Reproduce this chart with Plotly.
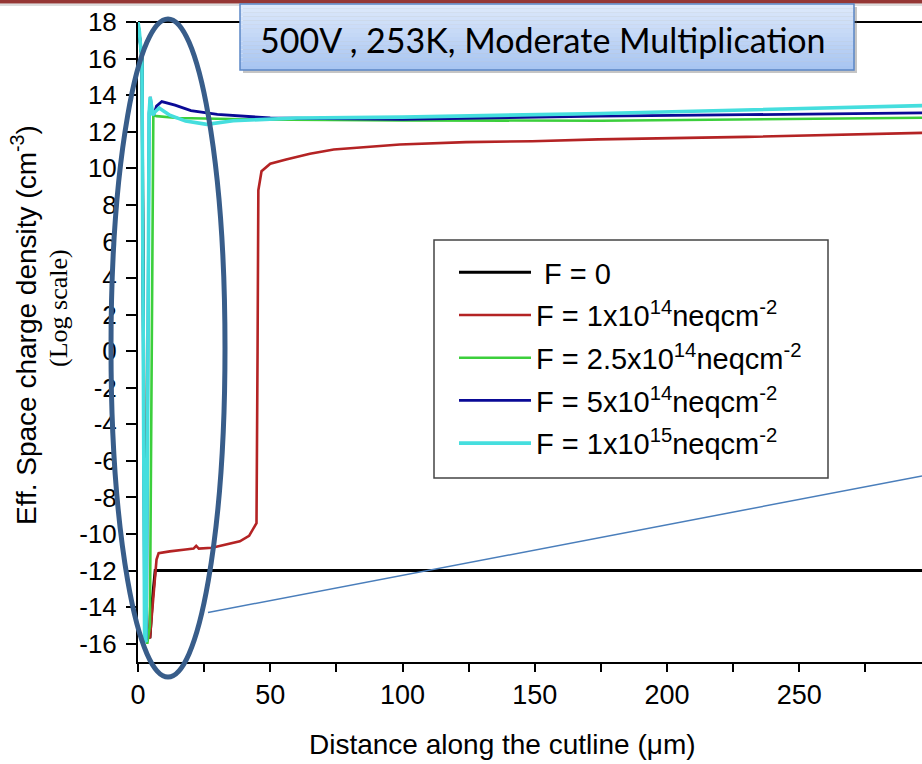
import plotly.graph_objects as go

# ---------------- data ----------------
x_f0 = [0, 1.5, 2.5, 3.5, 4.5, 5.5, 6.5, 100, 200, 300]
y_f0 = [18, 16, -10, -15.5, -15.7, -13.5, -12.0, -12.0, -12.0, -12.0]

x_f1e14 = [0, 1.5, 2.5, 3.5, 4.5, 5.5, 6.3, 7.0, 7.8, 12, 18, 21, 22, 23, 28, 34, 38.5, 42, 44,
           44.8, 45.2, 45.5, 46.7, 50, 56, 65, 74, 99, 124, 149, 174, 230, 300]
y_f1e14 = [18, 16, -10, -15.5, -15.7, -14, -12.3, -11.4, -11.05, -10.95, -10.85, -10.8, -10.65, -10.8,
           -10.75, -10.55, -10.4, -10.1, -9.6, -9.4, 0, 8.8, 9.84, 10.25, 10.48, 10.8, 11.03, 11.3,
           11.43, 11.48, 11.58, 11.72, 11.95]

x_f25e14 = [0, 1.5, 2.5, 3.5, 4.5, 5.2, 5.8, 7, 15, 40, 100, 175, 230, 300]
y_f25e14 = [18, 16, -15, -16, -15, 0, 12.9, 12.85, 12.75, 12.68, 12.62, 12.6, 12.66, 12.77]

x_f5e14 = [0, 1.5, 2.5, 3.2, 4.2, 4.7, 5.3, 6.0, 7, 9, 14, 20, 30, 50, 100, 175, 230, 300]
y_f5e14 = [18, 16, -15, -15.8, 13.0, 13.9, 13.0, 12.95, 13.4, 13.65, 13.45, 13.15, 12.95, 12.75,
           12.67, 12.85, 12.93, 13.04]

x_f1e15 = [0, 0.5, 1.5, 2.0, 2.5, 3.0, 3.6, 4.2, 4.6, 5.0, 5.6, 6.5, 8, 12, 18, 26, 36, 60, 100,
           175, 230, 300]
y_f1e15 = [18, 17.5, 15.8, 0, -15.8, -15.9, -5, 13.0, 13.9, 13.5, 12.9, 13.1, 13.3, 12.9, 12.58,
           12.4, 12.6, 12.75, 12.8, 13.0, 13.2, 13.44]

series_names = [
    " F = 0",
    "F = 1x10<sup>14</sup>neqcm<sup>-2</sup>",
    "F = 2.5x10<sup>14</sup>neqcm<sup>-2</sup>",
    "F = 5x10<sup>14</sup>neqcm<sup>-2</sup>",
    "F = 1x10<sup>15</sup>neqcm<sup>-2</sup>",
]
series_x = [x_f0, x_f1e14, x_f25e14, x_f5e14, x_f1e15]
series_y = [y_f0, y_f1e14, y_f25e14, y_f5e14, y_f1e15]
series_colors = ["#000000", "#b42324", "#3ccf3c", "#0a0a96", "#45dede"]
series_widths = [3, 2.6, 2.6, 2.8, 3.6]

x_ticks = [0, 50, 100, 150, 200, 250, 300]
y_ticks = list(range(-16, 19, 2))
y_ticktext = [str(v) for v in y_ticks]  # plain hyphen minus as in the reference

title_text = "500V , 253K, Moderate Multiplication"
x_title = "Distance along the cutline (μm)"
y_title = "Eff. Space charge density (cm<sup>-3</sup>)"
y_subtitle = "(Log scale)"

# ---------------- geometry helpers ----------------
W, H = 922, 764
L, T, B = 138, 22, 102
PW, PH = W - L, H - T - B


def px(x):
    return (x - L) / PW


def py(y):
    return (H - B - y) / PH


fig = go.Figure()
for i, (n, xs, ys, c, w) in enumerate(zip(series_names, series_x, series_y, series_colors, series_widths)):
    fig.add_trace(go.Scatter(x=xs, y=ys, mode="lines", name=n, legendgroup=f"g{i}",
                             line=dict(color=c, width=w), showlegend=True))

shapes = []
# top slide bar
shapes.append(dict(type="rect", xref="paper", yref="paper", x0=px(0), x1=px(W), y0=py(3.5), y1=py(0),
                   line=dict(width=0), fillcolor="#953735", layer="above"))
shapes.append(dict(type="rect", xref="paper", yref="paper", x0=px(0), x1=px(W), y0=py(6), y1=py(3.5),
                   line=dict(width=0), fillcolor="rgba(120,120,120,0.25)", layer="above"))
# top frame line
shapes.append(dict(type="line", xref="paper", yref="paper", x0=0, x1=1, y0=1, y1=1,
                   line=dict(color="black", width=2), layer="below"))
# legend frame
shapes.append(dict(type="rect", xref="paper", yref="paper", x0=px(434), x1=px(828),
                   y0=py(478), y1=py(240), line=dict(color="#444444", width=1.5),
                   fillcolor="white", layer="above"))
# title box shadow
bx0, bx1, by0, by1 = 240, 854, 4, 70
shapes.append(dict(type="rect", xref="paper", yref="paper", x0=px(bx0 + 3), x1=px(bx1 + 3),
                   y0=py(by1 + 3), y1=py(by0 + 3), line=dict(width=0),
                   fillcolor="rgba(90,90,90,0.35)", layer="above"))
# gradient strips
nstrip = 16
c_top = (222, 233, 251)
c_bot = (166, 196, 241)
for k in range(nstrip):
    t0 = k / nstrip
    t1 = (k + 1) / nstrip
    tm = (t0 + t1) / 2
    col = tuple(int(round(c_top[j] + (c_bot[j] - c_top[j]) * tm)) for j in range(3))
    shapes.append(dict(type="rect", xref="paper", yref="paper", x0=px(bx0), x1=px(bx1),
                       y0=py(by0 + (by1 - by0) * t1), y1=py(by0 + (by1 - by0) * t0),
                       line=dict(width=0), fillcolor=f"rgb{col}", layer="above"))
shapes.append(dict(type="rect", xref="paper", yref="paper", x0=px(bx0), x1=px(bx1),
                   y0=py(by1), y1=py(by0), line=dict(color="#5b87c6", width=1.5),
                   fillcolor="rgba(0,0,0,0)", layer="above"))
# ellipse highlight
shapes.append(dict(type="circle", xref="paper", yref="paper", x0=px(111), x1=px(225),
                   y0=py(677), y1=py(19), line=dict(color="#385d8a", width=5), layer="above"))
# pointer line
shapes.append(dict(type="line", xref="paper", yref="paper", x0=px(208), y0=py(612.5),
                   x1=px(922), y1=py(476), line=dict(color="#4a7ebb", width=1.5), layer="above"))

annotations = [
    dict(text=title_text, xref="paper", yref="paper", x=px(543), y=py(39), showarrow=False,
         xanchor="center", yanchor="middle", font=dict(family="Lato", size=34, color="black")),
    dict(text=x_title, xref="paper", yref="paper", x=px(502), y=py(744), showarrow=False,
         xanchor="center", yanchor="middle", font=dict(family="Liberation Sans", size=28, color="black")),
    dict(text=y_title, xref="paper", yref="paper", x=px(24), y=py(325), showarrow=False, textangle=-90,
         xanchor="center", yanchor="middle", font=dict(family="Liberation Sans", size=28, color="black")),
    dict(text=y_subtitle, xref="paper", yref="paper", x=px(58), y=py(308), showarrow=False, textangle=-90,
         xanchor="center", yanchor="middle", font=dict(family="Liberation Serif", size=26, color="black")),
]

fig.update_layout(
    width=W, height=H,
    margin=dict(l=L, r=0, t=T, b=B),
    paper_bgcolor="white", plot_bgcolor="white",
    showlegend=True,
    legend=dict(x=px(454), y=py(247), xanchor="left", yanchor="top",
                bgcolor="rgba(0,0,0,0)", borderwidth=0,
                font=dict(family="Liberation Sans", size=29, color="black"),
                tracegroupgap=2, itemwidth=72),
    shapes=shapes,
    annotations=annotations,
    xaxis=dict(range=[0, 296.4], tickvals=x_ticks, ticks="outside", ticklen=8, tickwidth=2,
               tickcolor="black", showline=True, linecolor="black", linewidth=2, showgrid=False,
               zeroline=False, tickfont=dict(family="Liberation Sans", size=27, color="black"),
               minor=dict(dtick=25, tick0=0, ticks="outside", ticklen=8, tickwidth=2, tickcolor="black")),
    yaxis=dict(range=[-17, 18], tickvals=y_ticks, ticktext=y_ticktext, ticks="outside", ticklen=10,
               tickwidth=2, ticklabelstandoff=4,
               tickcolor="black", showline=True, linecolor="black", linewidth=2, showgrid=False,
               zeroline=False, tickfont=dict(family="Liberation Sans", size=26, color="black")),
)

fig.write_html("out.html")
